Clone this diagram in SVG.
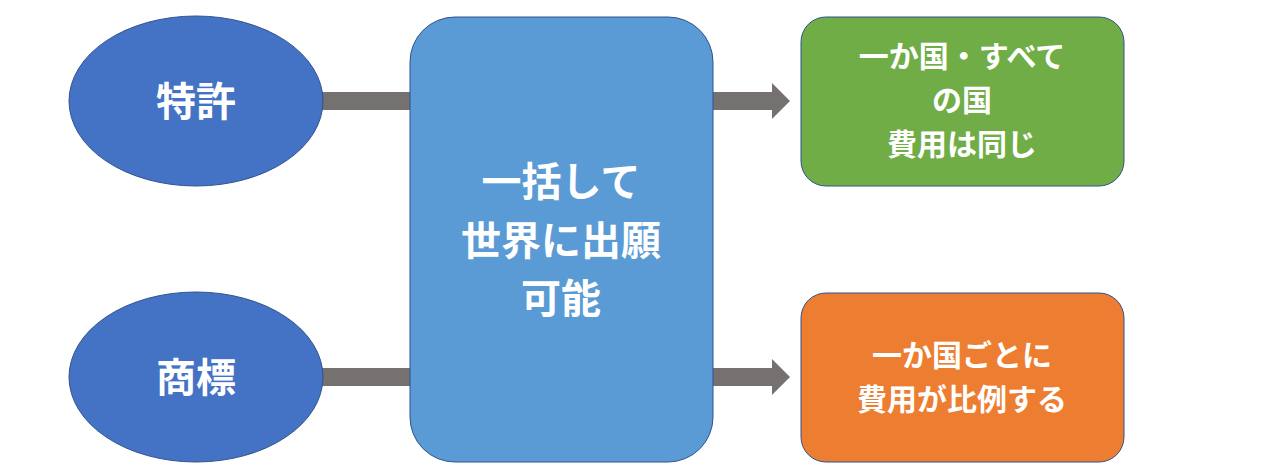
<svg xmlns="http://www.w3.org/2000/svg" width="1264" height="473" viewBox="0 0 1264 473">
<style>
text{font-family:"Noto Sans CJK JP","Liberation Sans",sans-serif;font-weight:bold;fill:#fff;text-anchor:middle}
.bar{fill:#767171}
.n{stroke:#2F528F;stroke-width:1}
</style>
<rect width="1264" height="473" fill="#fff"/>
<g id="connectors">
<rect class="bar" x="322" y="92" width="90" height="18"/>
<rect class="bar" x="322" y="368" width="90" height="18"/>
<polygon class="bar" points="712,92 772,92 772,83 790,101 772,119 772,110 712,110"/>
<polygon class="bar" points="712,368 772,368 772,359 790,377 772,395 772,386 712,386"/>
</g>
<g id="patent"><ellipse class="n" cx="196" cy="101" rx="127" ry="85" fill="#4472C4"/><text x="196" y="116" font-size="40">特許</text></g>
<g id="trademark"><ellipse class="n" cx="196" cy="377" rx="127" ry="85" fill="#4472C4"/><text x="196" y="392" font-size="40">商標</text></g>
<g id="center"><rect class="n" x="410" y="17" width="303" height="445" rx="45" fill="#5B9BD5"/>
<text font-size="40"><tspan x="561" y="196">一括して</tspan><tspan x="561" y="255">世界に出願</tspan><tspan x="561" y="313">可能</tspan></text></g>
<g id="same"><rect class="n" x="801" y="17" width="323" height="169" rx="25" fill="#70AD47"/>
<text font-size="30"><tspan x="962" y="67">一か国・すべて</tspan><tspan x="962" y="111">の国</tspan><tspan x="962" y="155">費用は同じ</tspan></text></g>
<g id="prop"><rect class="n" x="801" y="293" width="323" height="169" rx="25" fill="#ED7D31"/>
<text font-size="30"><tspan x="962" y="366">一か国ごとに</tspan><tspan x="962" y="410">費用が比例する</tspan></text></g>
</svg>
